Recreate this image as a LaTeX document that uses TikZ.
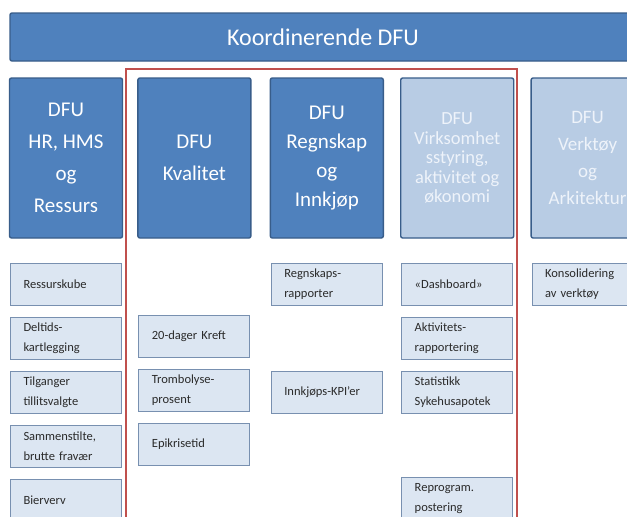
\documentclass[tikz,border=0pt]{standalone}
\usepackage{fontspec}
\setmainfont{Carlito}
\usetikzlibrary{positioning}

\definecolor{dfublue}{HTML}{4F81BD}
\definecolor{dfuedge}{HTML}{385D8A}
\definecolor{dfupale}{HTML}{B8CCE4}
\definecolor{palefont}{HTML}{EEF3FA}
\definecolor{taskfill}{HTML}{DCE6F2}
\definecolor{taskedge}{HTML}{7890B0}
\definecolor{taskfont}{HTML}{2A2A2A}
\definecolor{focusred}{HTML}{C0504D}

\begin{document}
\begin{tikzpicture}[x=1pt, y=-1pt,
  bar/.style={draw=dfuedge, fill=dfublue, line width=1.4pt, rounded corners=2pt,
              minimum width=626pt, minimum height=48pt, text=white,
              font=\fontsize{24}{28}\selectfont},
  head/.style={draw=dfuedge, fill=dfublue, line width=1.4pt, rounded corners=2pt,
               minimum width=113pt, minimum height=160pt, inner sep=0pt,
               align=center, text=white, font=\fontsize{21}{32}\selectfont},
  pale/.style={head, fill=dfupale, text=palefont},
  task/.style={draw=taskedge, fill=taskfill, line width=1.1pt, text width=85pt,
               inner xsep=13pt, inner ysep=0pt, minimum height=42pt, align=left,
               text=taskfont, font=\fontsize{12.5}{20}\selectfont},
  frame/.style={draw=focusred, line width=2.8pt}]
\useasboundingbox (0,0) rectangle (627,517);
\clip (0,0) rectangle (627,517);
\fill[white] (0,0) rectangle (627,517);

\node[bar] (top) at (323,37) {Koordinerende DFU};

% the five DFU groups
\node[head] (hr) at (66,158) {DFU\\HR, HMS\\og\\Ressurs};
\node[head, right=14pt of hr] (kval) {DFU\\Kvalitet};
\node[head, right=18pt of kval, font=\fontsize{21}{29}\selectfont] (regn) {DFU\\Regnskap\\og\\Innkjøp};
\node[pale, right=16pt of regn, font=\fontsize{18.5}{19.5}\selectfont] (virk) {DFU\\Virksomhet\\sstyring,\\aktivitet og\\økonomi};
\node[pale, right=16pt of virk, font=\fontsize{19}{27}\selectfont] (verk) {DFU\\Verktøy\\og\\Arkitektur};

% frame round the groups in focus
\draw[frame] (126,69) rectangle (517,530);

% deliveries under each group
\node[task, below=24pt of hr] (kube) {Ressurskube};
\node[task, below=11pt of kube] (deltid) {Deltids-\\kartlegging};
\node[task, below=11pt of deltid] (tilgang) {Tilganger\\tillitsvalgte};
\node[task, below=11pt of tilgang] (fravaer) {Sammenstilte,\\brutte fravær};
\node[task, below=11pt of fravaer] (bierverv) {Bierverv};

\node[task, below=76pt of kval] (kreft) {20-dager Kreft};
\node[task, below=11pt of kreft] (trombo) {Trombolyse-\\prosent};
\node[task, below=11pt of trombo] (epikrise) {Epikrisetid};

\node[task, below=24pt of regn] (rapp) {Regnskaps-\\rapporter};
\node[task, below=65pt of rapp] (kpi) {Innkjøps-KPI’er};

\node[task, below=24pt of virk] (dash) {«Dashboard»};
\node[task, below=11pt of dash] (aktiv) {Aktivitets-\\rapportering};
\node[task, below=11pt of aktiv] (apotek) {Statistikk\\Sykehusapotek};
\node[task, below=63pt of apotek] (repro) {Reprogram.\\postering};

\node[task, below=24pt of verk] (kons) {Konsolidering\\av verktøy};
\end{tikzpicture}
\end{document}
